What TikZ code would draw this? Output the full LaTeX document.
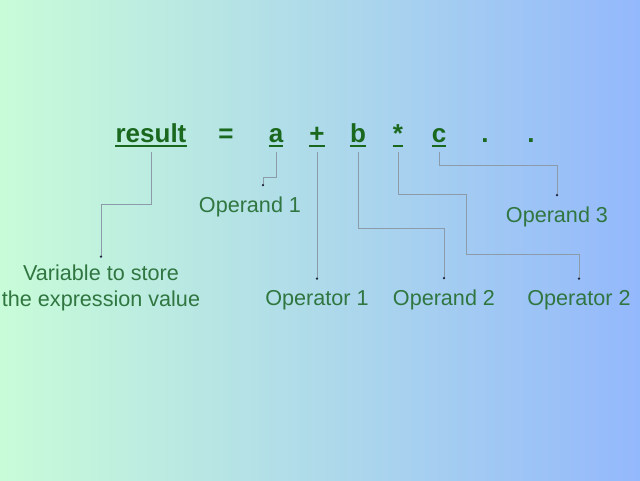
\documentclass[tikz,border=0pt]{standalone}
\usepackage{fontspec}
\setmainfont{Liberation Sans}
\usetikzlibrary{arrows.meta}
\definecolor{eqgreen}{RGB}{26,104,30}
\definecolor{lblgreen}{RGB}{48,118,64}
\definecolor{wirecol}{RGB}{140,155,170}
\definecolor{tipcol}{RGB}{30,35,60}
\definecolor{bgleft}{RGB}{200,252,216}
\definecolor{bgright}{RGB}{148,184,252}
\tikzset{
  tok/.style={inner sep=0pt, anchor=base, text=eqgreen, font=\fontsize{26}{30}\selectfont\bfseries},
  lbl/.style={inner sep=0pt, anchor=base, text=lblgreen, font=\fontsize{21.6}{26}\selectfont},
  wire/.style={draw=wirecol, line width=0.8pt, -{Circle[length=2.2pt, color=tipcol]}},
}
\newcommand\uline[1]{%
  \draw[eqgreen, line width=2.5pt] ([yshift=-4pt]#1.base west) -- ([yshift=-4pt]#1.base east);
}

\begin{document}
\begin{tikzpicture}[x=1pt, y=-1pt]
    \shade[left color=bgleft, right color=bgright] (0,0) rectangle (640,480);
    \useasboundingbox (0,0) rectangle (640,480);

    % the expression
    \node[tok] (result) at (151,142) {result};
    \node[tok] (eq)     at (226,142) {=};
    \node[tok] (a)      at (276,142) {a};
    \node[tok] (plus)   at (317,142) {+};
    \node[tok] (b)      at (358,142) {b};
    \node[tok] (star)   at (398,142) {*};
    \node[tok] (c)      at (439,142) {c};
    \node[tok] (dotA)   at (485,142) {.};
    \node[tok] (dotB)   at (531,142) {.};
    \uline{result}
    \uline{a}
    \uline{plus}
    \uline{b}
    \uline{star}
    \uline{c}

    % labels
    \node[lbl] (opd1) at (250,212) {Operand 1};
    \node[lbl] (opd3) at (557,222) {Operand 3};
    \node[lbl] (opr1) at (317,305) {Operator 1};
    \node[lbl] (opd2) at (444,305) {Operand 2};
    \node[lbl] (opr2) at (579,305) {Operator 2};
    \node[lbl, anchor=center, align=center] (var) at (101,288)
        {Variable to store\\the expression value};

    % connectors
    \draw[wire] ([yshift=-10pt]result.base) |- ([yshift=60pt]var.north) -- ([yshift=7pt]var.north);
    \draw[wire] ([yshift=-10pt]a.base) |- ([xshift=13pt,yshift=19pt]opd1.north) -- ([xshift=13pt,yshift=10pt]opd1.north);
    \draw[wire] ([yshift=-10pt]plus.base) -- ([yshift=10pt]opr1.north);
    \draw[wire] ([yshift=-10pt]b.base) |- ([yshift=61pt]opd2.north) -- ([yshift=10pt]opd2.north);
    \draw[wire] ([yshift=-10pt]star.base) |- ([xshift=-113pt,yshift=95pt]opr2.north)
        |- ([yshift=35pt]opr2.north) -- ([yshift=10pt]opr2.north);
    \draw[wire] ([yshift=-10pt]c.base) |- ([yshift=41pt]opd3.north) -- ([yshift=10pt]opd3.north);
\end{tikzpicture}
\end{document}
